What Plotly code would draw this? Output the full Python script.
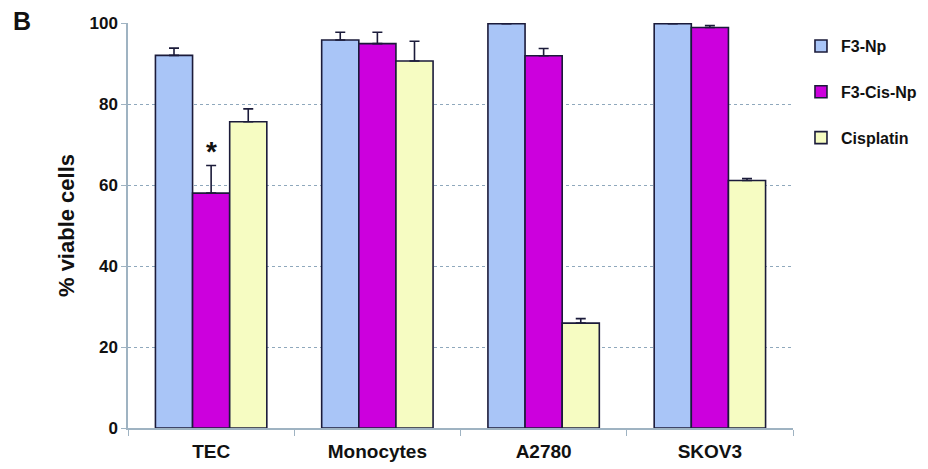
import plotly.graph_objects as go

categories = ["TEC", "Monocytes", "A2780", "SKOV3"]
series_names = ["F3-Np", "F3-Cis-Np", "Cisplatin"]
f3_np = [92.0, 95.8, 99.8, 99.8]
f3_np_err = [1.8, 1.9, 0.3, 0.2]
f3_cis_np = [58.0, 94.9, 91.9, 98.9]
f3_cis_np_err = [6.8, 2.8, 1.8, 0.5]
cisplatin = [75.6, 90.6, 25.9, 61.1]
cisplatin_err = [3.2, 4.9, 1.1, 0.5]
y_ticks = [0, 20, 40, 60, 80, 100]

colors = ["#A9C5F7", "#CC00DD", "#F6FCC2"]
edge = "#1B1B3A"
font_family = "Liberation Sans, Arial, sans-serif"

fig = go.Figure()
for i, (name, vals, errs) in enumerate(zip(series_names,
                                          [f3_np, f3_cis_np, cisplatin],
                                          [f3_np_err, f3_cis_np_err, cisplatin_err])):
    fig.add_trace(go.Bar(
        x=categories, y=vals, name=name, legendgroup=name,
        marker=dict(color=colors[i], line=dict(color=edge, width=1.6)),
        error_y=dict(type="data", array=errs, arrayminus=[0]*len(errs),
                     symmetric=False, color=edge, thickness=1.6, width=5),
    ))

fig.add_annotation(x="TEC", y=f3_cis_np[0] + f3_cis_np_err[0], text="*",
                   showarrow=False, yanchor="bottom", xanchor="center", yshift=-3,
                   font=dict(size=28, color="#111", family=font_family, weight="bold"))
fig.add_annotation(x=-0.176, y=1.005, xref="paper", yref="paper", text="B",
                   showarrow=False, xanchor="left", yanchor="middle",
                   font=dict(size=25, color="#111", family=font_family, weight="bold"))

axis_col = "#9FB3C2"
fig.update_layout(
    width=920, height=461,
    margin=dict(l=120, r=135, t=15, b=41, autoexpand=False),
    paper_bgcolor="white", plot_bgcolor="white",
    barmode="group", bargap=0.33, bargroupgap=0,
    font=dict(family=font_family, color="#111"),
    showlegend=True,
    legend=dict(x=1.012, y=0.985, xanchor="left", yanchor="top",
                font=dict(size=16, family=font_family, weight="bold"),
                tracegroupgap=22, itemwidth=30, borderwidth=0,
                bgcolor="rgba(0,0,0,0)"),
    xaxis=dict(showline=True, linecolor=axis_col, linewidth=1.5, automargin=False,
               ticks="outside", tickson="boundaries", ticklen=6, tickcolor=axis_col,
               ticklabelstandoff=5,
               tickfont=dict(size=19, family=font_family, color="#111", weight="bold"),
               showgrid=False),
    yaxis=dict(range=[0, 100], tickvals=y_ticks, showline=True, linecolor=axis_col,
               linewidth=1.5, ticks="outside", ticklen=5, tickcolor=axis_col,
               tickfont=dict(size=17, family=font_family, color="#111", weight="bold"),
               automargin=False,
               showgrid=True, gridcolor="#8FA8BC", griddash="dot", gridwidth=1,
               zeroline=False,
               title=dict(text="% viable cells",
                          font=dict(size=22, family=font_family, weight="bold"),
                          standoff=9)),
)

fig.write_html("out.html")
